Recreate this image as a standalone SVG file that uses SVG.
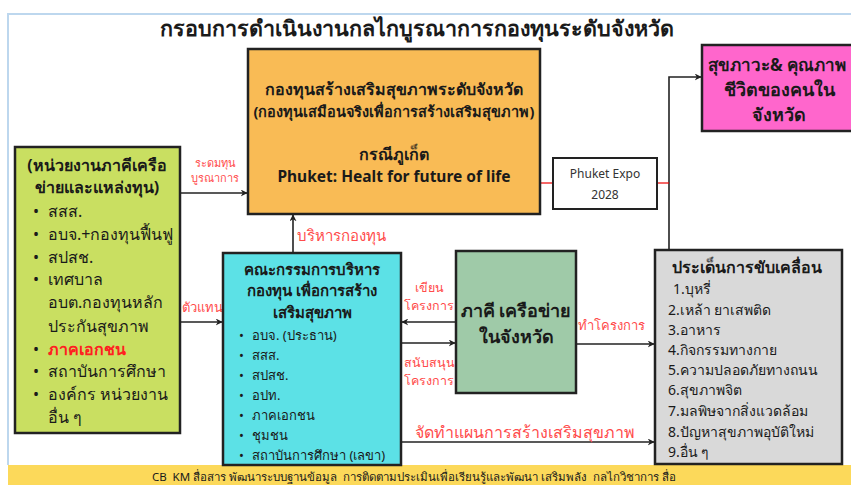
<svg xmlns="http://www.w3.org/2000/svg" width="851" height="485" viewBox="0 0 851 485">
<defs>
<marker id="ah" viewBox="0 0 10 10" refX="9" refY="5" markerWidth="7" markerHeight="7" orient="auto" markerUnits="userSpaceOnUse"><path d="M0,0 L10,5 L0,10 L3,5 Z" fill="#222"/></marker>
</defs>
<style>
text{font-family:"Noto Sans","DejaVu Sans",sans-serif;fill:#1a1a1a}
.box{stroke:#222;stroke-width:2.5}
.b{font-weight:bold}
.lbl{fill:#ff4b4b}
.c{text-anchor:middle}
.con{stroke:#222;stroke-width:1.6;fill:none}
.red{stroke:#e00;stroke-width:1.2;fill:none}
</style>
<rect width="851" height="485" fill="#fff"/>
<path d="M8,465 V14 H851" fill="none" stroke="#bdd7ee" stroke-width="2"/>
<rect x="8" y="465" width="843" height="20" fill="#fcd95a"/>
<text x="414" y="481" class="c" font-size="11.5" style="white-space:pre">CB  KM สื่อสาร พัฒนาระบบฐานข้อมูล  การติดตามประเมินเพื่อเรียนรู้และพัฒนา เสริมพลัง  กลไกวิชาการ สื่อ</text>
<text x="417" y="36" class="c b" font-size="21.5">กรอบการดำเนินงานกลไกบูรณาการกองทุนระดับจังหวัด</text>

<g id="connectors">
<line x1="180" y1="193" x2="247" y2="193" class="con" marker-end="url(#ah)"/>
<line x1="180" y1="322" x2="222" y2="322" class="con" marker-end="url(#ah)"/>
<line x1="293" y1="253" x2="293" y2="215" class="con" marker-end="url(#ah)"/>
<line x1="456" y1="322" x2="402" y2="322" class="con" marker-end="url(#ah)"/>
<line x1="401" y1="343" x2="455" y2="343" class="con" marker-end="url(#ah)"/>
<line x1="576" y1="344" x2="654" y2="344" class="con" marker-end="url(#ah)"/>
<line x1="401" y1="442" x2="654" y2="442" class="con" marker-end="url(#ah)"/>
<polyline points="669,250 669,77 701,77" class="con" marker-end="url(#ah)"/>
<line x1="540" y1="183" x2="553" y2="183" class="red"/>
<line x1="657" y1="183" x2="669" y2="183" class="red"/>
<text x="215" y="167" class="c lbl" font-size="11">ระดมทุน</text>
<text x="215" y="182" class="c lbl" font-size="11">บูรณาการ</text>
<text x="202" y="312" class="c lbl" font-size="13">ตัวแทน</text>
<text x="297" y="241" class="lbl" font-size="15">บริหารกองทุน</text>
<text x="429" y="292" class="c lbl" font-size="12.5">เขียน</text>
<text x="429" y="310" class="c lbl" font-size="12.5">โครงการ</text>
<text x="429" y="367" class="c lbl" font-size="12.5">สนับสนุน</text>
<text x="429" y="385" class="c lbl" font-size="12.5">โครงการ</text>
<text x="611" y="330" class="c lbl" font-size="13">ทำโครงการ</text>
<text x="415" y="438" class="lbl" font-size="16">จัดทำแผนการสร้างเสริมสุขภาพ</text>
</g>

<g id="partners">
<rect x="15" y="147" width="165" height="286" fill="#c9df61" class="box"/>
<text x="97" y="171" class="c b" font-size="16">(หน่วยงานภาคีเครือ</text>
<text x="97" y="193" class="c b" font-size="16">ข่ายและแหล่งทุน)</text>
<g font-size="16">
<text x="33" y="217">•</text><text x="48" y="217">สสส.</text>
<text x="33" y="240">•</text><text x="48" y="240">อบจ.+กองทุนฟื้นฟู</text>
<text x="33" y="263">•</text><text x="48" y="263">สปสช.</text>
<text x="33" y="285">•</text><text x="48" y="285">เทศบาล</text>
<text x="48" y="308">อบต.กองทุนหลัก</text>
<text x="48" y="332">ประกันสุขภาพ</text>
<text x="33" y="355">•</text><text x="48" y="355" class="b" style="fill:#ff2020">ภาคเอกชน</text>
<text x="33" y="377">•</text><text x="48" y="377">สถาบันการศึกษา</text>
<text x="33" y="400">•</text><text x="48" y="400">องค์กร หน่วยงาน</text>
<text x="48" y="423">อื่น ๆ</text>
</g>
</g>

<g id="fund">
<rect x="248" y="49" width="292" height="165" fill="#f9bb55" class="box"/>
<text x="394" y="95" class="c b" font-size="16">กองทุนสร้างเสริมสุขภาพระดับจังหวัด</text>
<text x="394" y="117" class="c b" font-size="14.5">(กองทุนเสมือนจริงเพื่อการสร้างเสริมสุขภาพ)</text>
<text x="394" y="160" class="c b" font-size="16">กรณีภูเก็ต</text>
<text x="394" y="182" class="c b" font-size="15.5">Phuket: Healt for future of life</text>
</g>

<g id="expo">
<rect x="553" y="158" width="104" height="51" fill="#fff" stroke="#222" stroke-width="2"/>
<text x="605" y="178" class="c" font-size="12" style="fill:#333">Phuket Expo</text>
<text x="605" y="199" class="c" font-size="12" style="fill:#333">2028</text>
</g>

<g id="wellbeing">
<rect x="702" y="45" width="160" height="86" fill="#ff66cc" class="box"/>
<text x="777" y="71" class="c b" font-size="17">สุขภาวะ&amp; คุณภาพ</text>
<text x="779" y="96" class="c b" font-size="18">ชีวิตของคนใน</text>
<text x="779" y="121" class="c b" font-size="18">จังหวัด</text>
</g>

<g id="committee">
<rect x="223" y="253" width="178" height="212" fill="#5ce1e6" class="box"/>
<text x="312" y="275" class="c b" font-size="15">คณะกรรมการบริหาร</text>
<text x="312" y="296" class="c b" font-size="15">กองทุน เพื่อการสร้าง</text>
<text x="312" y="318" class="c b" font-size="15">เสริมสุขภาพ</text>
<g font-size="13">
<text x="239" y="340">•</text><text x="252" y="340">อบจ. (ประธาน)</text>
<text x="239" y="360">•</text><text x="252" y="360">สสส.</text>
<text x="239" y="380">•</text><text x="252" y="380">สปสช.</text>
<text x="239" y="400">•</text><text x="252" y="400">อปท.</text>
<text x="239" y="420">•</text><text x="252" y="420">ภาคเอกชน</text>
<text x="239" y="440">•</text><text x="252" y="440">ชุมชน</text>
<text x="239" y="460">•</text><text x="252" y="460">สถาบันการศึกษา (เลขา)</text>
</g>
</g>

<g id="network">
<rect x="456" y="251" width="120" height="142" fill="#9fcaa8" class="box"/>
<text x="516" y="317" class="c b" font-size="18">ภาคี เครือข่าย</text>
<text x="516" y="343" class="c b" font-size="18">ในจังหวัด</text>
</g>

<g id="issues">
<rect x="655" y="250" width="187" height="214" fill="#d9d9d9" class="box"/>
<text x="672" y="273" class="b" font-size="16">ประเด็นการขับเคลื่อน</text>
<g font-size="14">
<text x="673" y="294">1.บุหรี่</text>
<text x="668" y="315">2.เหล้า ยาเสพติด</text>
<text x="668" y="335">3.อาหาร</text>
<text x="668" y="355">4.กิจกรรมทางกาย</text>
<text x="668" y="375">5.ความปลอดภัยทางถนน</text>
<text x="668" y="395">6.สุขภาพจิต</text>
<text x="668" y="416">7.มลพิษจากสิ่งแวดล้อม</text>
<text x="668" y="437">8.ปัญหาสุขภาพอุบัติใหม่</text>
<text x="668" y="457">9.อื่น ๆ</text>
</g>
</g>
</svg>
